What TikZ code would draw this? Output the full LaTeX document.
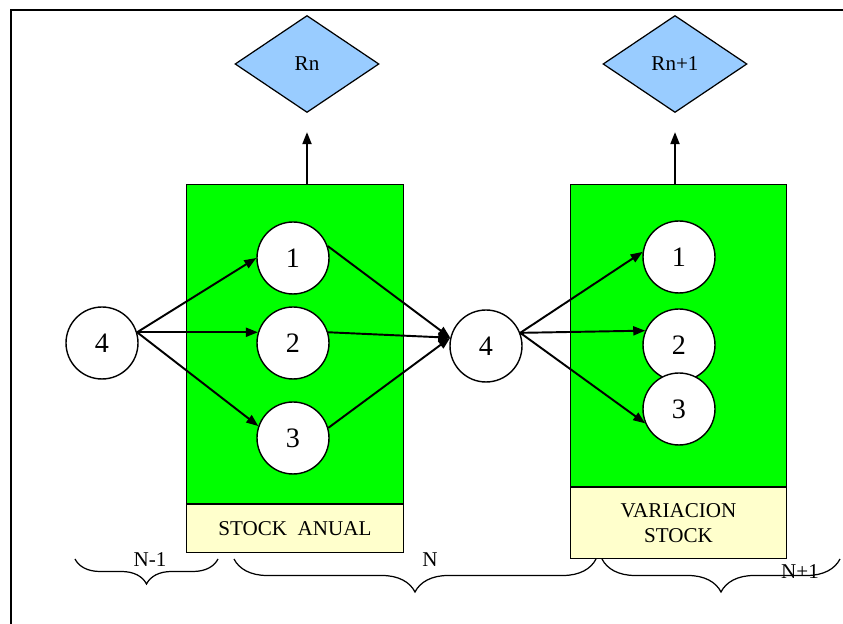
\documentclass[tikz,border=0pt]{standalone}
\usepackage{fontspec}
\setmainfont{Liberation Serif}
\usetikzlibrary{shapes.geometric,arrows.meta,decorations.pathreplacing}

\definecolor{stockgreen}{HTML}{00FF00}
\definecolor{rblue}{HTML}{99CCFF}
\definecolor{labyellow}{HTML}{FFFFCC}

\tikzset{
  circ/.style={circle, draw, line width=0.8pt, fill=white, minimum size=1.44cm, inner sep=0pt,
    font=\fontsize{16}{18}\selectfont},
  stockbox/.style={rectangle, draw, line width=0.6pt, fill=stockgreen, inner sep=0pt, anchor=north west},
  labbox/.style={rectangle, draw, line width=0.8pt, fill=labyellow, inner sep=0pt, anchor=north,
    align=center, font=\fontsize{12}{14}\selectfont},
  result/.style={diamond, draw, line width=0.7pt, fill=rblue, minimum width=2.88cm, minimum height=1.94cm,
    inner sep=0pt, font=\fontsize{12}{14}\selectfont},
  arr/.style={-{Triangle[length=0.24cm,width=0.18cm]}, line width=1.1pt},
  period/.style={decorate, decoration={brace, mirror, amplitude=#1}, line width=0.7pt},
  per/.style={font=\fontsize{12}{14}\selectfont}
}

\begin{document}
\begin{tikzpicture}[x=0.02cm, y=-0.02cm]
  \useasboundingbox (0,0) rectangle (843,624);
  \draw[line width=0.8pt] (11,630) -- (11,10) -- (850,10);

  % year N
  \node[stockbox, minimum width=4.34cm, minimum height=6.38cm] (box1) at (186,184) {};
  \node[labbox, minimum width=4.34cm, minimum height=0.96cm] (lab1) at (box1.south) {STOCK~~ANUAL};
  \node[result] (rn) at (307,64) {Rn};
  \draw[arr, shorten >=0.38cm] (rn.south |- box1.north) -- (rn.south);

  % year N+1
  \node[stockbox, minimum width=4.32cm, minimum height=6.04cm] (box2) at (570,184) {};
  \node[labbox, minimum width=4.32cm, minimum height=1.42cm] (lab2) at (box2.south) {VARIACION\\STOCK};
  \node[result] (rn1) at (675,64) {Rn+1};
  \draw[arr, shorten >=0.38cm] (rn1.south |- box2.north) -- (rn1.south);

  % circles
  \node[circ] (a4) at (102,343) {4};
  \node[circ] (s1) at (293,258) {1};
  \node[circ] (s2) at (293,343) {2};
  \node[circ] (s3) at (293,438) {3};
  \node[circ] (b4) at (486,346) {4};
  \node[circ] (v1) at (679,257) {1};
  \node[circ] (v2) at (679,345) {2};
  \node[circ] (v3) at (679,409) {3};

  \draw[arr] (a4.17) -- (s1.180);
  \draw[arr] (a4.17) -- (s2.163);
  \draw[arr] (a4.17) -- (s3.161);
  \draw[arr] (s1.19) -- (b4.167);
  \draw[arr] (s2.17) -- (b4.167);
  \draw[arr] (s3.16) -- (b4.167);
  \draw[arr] (b4.21) -- (v1.172);
  \draw[arr] (b4.21) -- (v2.157);
  \draw[arr] (b4.21) -- (v3.203);

  % periods
  \draw[period=0.5cm] (75,559) -- (218,559);
  \draw[period=0.66cm] (234,559) -- (596,559);
  \draw[period=0.66cm] (602,559) -- (840,559);
  \node[per] (pn0) at (150,560) {N-1};
  \node[per] (pn1) at (430,560) {N};
  \node[per] (pn2) at (800,572) {N+1};
\end{tikzpicture}
\end{document}
